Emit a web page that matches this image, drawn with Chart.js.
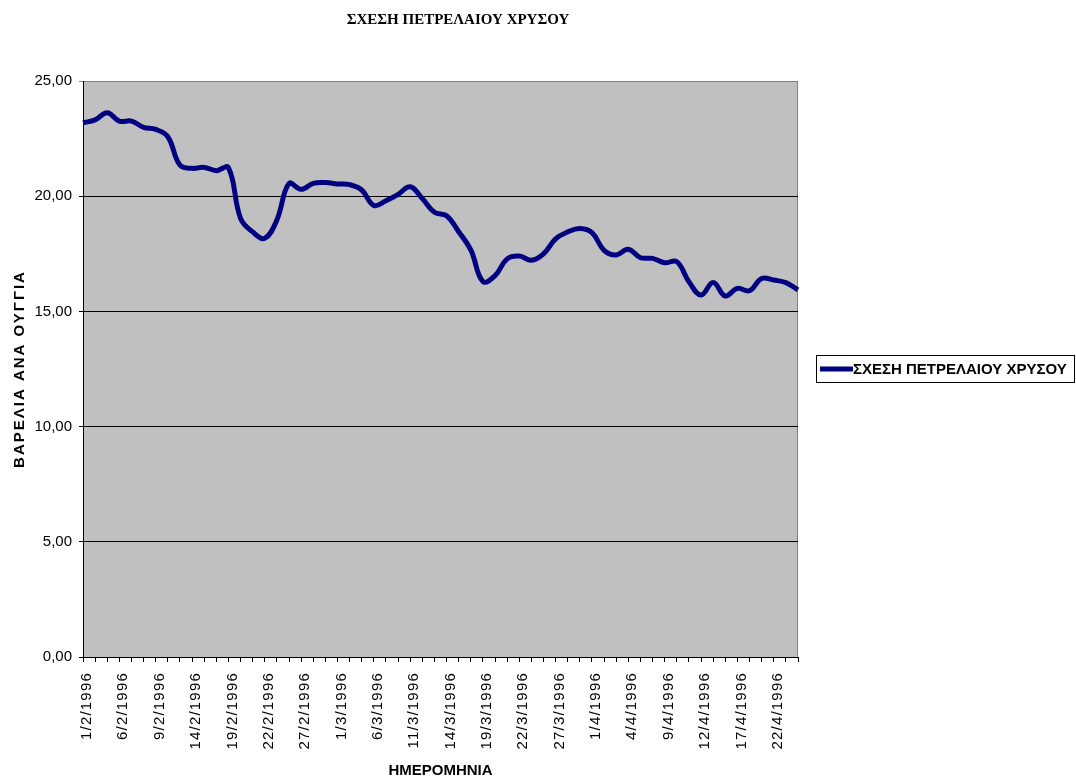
<!DOCTYPE html>
<html lang="el">
<head>
<meta charset="utf-8">
<title>ΣΧΕΣΗ ΠΕΤΡΕΛΑΙΟΥ ΧΡΥΣΟΥ</title>
<script src="https://cdn.jsdelivr.net/npm/chart.js@4.4.1/dist/chart.umd.min.js"></script>
<style>
  html, body { margin: 0; padding: 0; background: #fff; }
  #wrap { width: 1076px; height: 782px; position: relative; }
</style>
</head>
<body>
<div id="wrap"><canvas id="grafico"></canvas></div>
<script>
// Ημερομηνίες (εργάσιμες) 1/2/1996 - 24/4/1996
const dates = [
  '1/2/1996', '2/2/1996', '5/2/1996', '6/2/1996', '7/2/1996', '8/2/1996', '9/2/1996',
  '12/2/1996', '13/2/1996', '14/2/1996', '15/2/1996', '16/2/1996', '19/2/1996', '20/2/1996',
  '21/2/1996', '22/2/1996', '23/2/1996', '26/2/1996', '27/2/1996', '28/2/1996', '29/2/1996',
  '1/3/1996', '4/3/1996', '5/3/1996', '6/3/1996', '7/3/1996', '8/3/1996', '11/3/1996',
  '12/3/1996', '13/3/1996', '14/3/1996', '15/3/1996', '18/3/1996', '19/3/1996', '20/3/1996',
  '21/3/1996', '22/3/1996', '25/3/1996', '26/3/1996', '27/3/1996', '28/3/1996', '29/3/1996',
  '1/4/1996', '2/4/1996', '3/4/1996', '4/4/1996', '5/4/1996', '8/4/1996', '9/4/1996',
  '10/4/1996', '11/4/1996', '12/4/1996', '15/4/1996', '16/4/1996', '17/4/1996', '18/4/1996',
  '19/4/1996', '22/4/1996', '23/4/1996', '24/4/1996'
];

// Βαρέλια ανά ουγγιά
const ratio = [
  23.19, 23.31, 23.62, 23.26, 23.26, 22.99, 22.90,
  22.58, 21.35, 21.21, 21.25, 21.11, 21.24, 19.04,
  18.45, 18.17, 18.97, 20.55, 20.30, 20.56, 20.59,
  20.53, 20.50, 20.27, 19.60, 19.80, 20.08, 20.41,
  19.90, 19.30, 19.15, 18.46, 17.67, 16.30, 16.55,
  17.28, 17.40, 17.22, 17.50, 18.15, 18.45, 18.60,
  18.42, 17.65, 17.45, 17.70, 17.33, 17.30, 17.11,
  17.16, 16.29, 15.71, 16.25, 15.67, 16.00, 15.90,
  16.43, 16.36, 16.25, 15.93
];

// Άξονας Υ
const yTicks = [0, 5, 10, 15, 20, 25];
const labelStep = 3; // ετικέτα κάθε 3 ημερομηνίες

const seriesName = 'ΣΧΕΣΗ ΠΕΤΡΕΛΑΙΟΥ ΧΡΥΣΟΥ';
const sans = "'Liberation Sans', Arial, sans-serif";
const serif = "'Liberation Serif', 'Times New Roman', serif";

// Γκρι φόντο περιοχής σχεδίασης + τίτλος
const plotBg = {
  id: 'plotBg',
  beforeDraw(chart) {
    const { ctx, chartArea: a } = chart;
    ctx.save();
    ctx.fillStyle = '#c0c0c0';
    ctx.fillRect(a.left, a.top, a.right - a.left, a.bottom - a.top);
    ctx.strokeStyle = '#808080';
    ctx.lineWidth = 1;
    ctx.strokeRect(a.left + 0.5, a.top + 0.5, a.right - a.left - 1, a.bottom - a.top);

    // τίτλος
    ctx.fillStyle = '#000';
    ctx.font = 'bold 15px ' + serif;
    ctx.textAlign = 'center';
    ctx.textBaseline = 'middle';
    ctx.fillText(seriesName, 458, 20);
    ctx.restore();

    // αραιά γράμματα στις ετικέτες του άξονα Χ και στον τίτλο του Υ
    const sx = chart.scales.x;
    if (!sx._spaced) {
      const orig = sx.drawLabels.bind(sx);
      sx.drawLabels = (area) => {
        chart.ctx.save();
        chart.ctx.letterSpacing = '1.2px';
        orig(area);
        chart.ctx.restore();
      };
      sx._spaced = true;
    }
    const sy = chart.scales.y;
    if (!sy._spaced) {
      const origT = sy.drawTitle.bind(sy);
      sy.drawTitle = () => {
        chart.ctx.save();
        chart.ctx.letterSpacing = '2px';
        origT();
        chart.ctx.restore();
      };
      sy._spaced = true;
    }
  }
};

// Υπόμνημα με πλαίσιο, δεξιά του γραφήματος
const boxLegend = {
  id: 'boxLegend',
  afterDraw(chart) {
    const ctx = chart.ctx;
    const ds = chart.data.datasets[0];
    const a = chart.chartArea;
    const cy = Math.round((a.top + a.bottom) / 2);
    const x0 = a.right + 18;
    ctx.save();
    ctx.fillStyle = '#fff';
    ctx.fillRect(x0, cy - 14, 1076 - x0, 27);
    ctx.strokeStyle = '#000';
    ctx.lineWidth = 1;
    ctx.strokeRect(x0 + 0.5, cy - 13.5, 1076 - x0 - 2, 27);
    ctx.strokeStyle = ds.borderColor;
    ctx.lineWidth = 5;
    ctx.beginPath();
    ctx.moveTo(x0 + 4, cy);
    ctx.lineTo(x0 + 37, cy);
    ctx.stroke();
    ctx.fillStyle = '#000';
    ctx.font = 'bold 15px ' + sans;
    ctx.textBaseline = 'middle';
    ctx.fillText(ds.label, x0 + 37, cy + 1);
    ctx.restore();
  }
};

const ctx = document.getElementById('grafico').getContext('2d');
new Chart(ctx, {
  type: 'line',
  data: {
    labels: dates,
    datasets: [{
      label: seriesName,
      data: ratio,
      borderColor: '#000080',
      borderWidth: 5,
      pointRadius: 0,
      tension: 0.4,
      fill: false
    }]
  },
  options: {
    responsive: true,
    maintainAspectRatio: false,
    devicePixelRatio: 1,
    animation: false,
    layout: { padding: { left: 0, right: 278, top: 81, bottom: 0 } },
    plugins: {
      legend: { display: false },
      tooltip: { enabled: false },
      title: { display: false }
    },
    scales: {
      x: {
        type: 'category',
        offset: false,
        afterFit: (s) => { s.height = 125; },
        grid: {
          display: true,
          drawOnChartArea: false,
          drawTicks: true,
          tickLength: 5,
          color: '#000'
        },
        border: { display: true, color: '#000', width: 1 },
        ticks: {
          autoSkip: false,
          maxRotation: 90,
          minRotation: 90,
          padding: 10,
          labelOffset: 4,
          color: '#000',
          font: { family: sans, size: 15 },
          callback: (v, i) => (i % labelStep === 0 ? dates[i] : '')
        },
        title: {
          display: true,
          text: 'ΗΜΕΡΟΜΗΝΙΑ',
          color: '#000',
          font: { family: sans, size: 15, weight: 'bold' },
          padding: { top: 0, bottom: 2 }
        }
      },
      y: {
        min: yTicks[0],
        max: yTicks[yTicks.length - 1],
        afterFit: (s) => { s.width = 83; },
        afterBuildTicks: (s) => { s.ticks = yTicks.map((v) => ({ value: v })); },
        grid: {
          color: (c) => (c.tick && c.tick.value === 25 ? '#808080' : '#000'),
          lineWidth: 1,
          drawTicks: true,
          tickLength: 4
        },
        border: { display: true, color: '#000', width: 1 },
        ticks: {
          padding: 7,
          color: '#000',
          font: { family: sans, size: 15 },
          callback: (v) => Number(v).toFixed(2).replace('.', ',')
        },
        title: {
          display: true,
          text: 'ΒΑΡΕΛΙΑ ΑΝΑ ΟΥΓΓΙΑ',
          color: '#000',
          font: { family: sans, size: 15, weight: 'bold' },
          padding: { top: 11, bottom: 0 }
        }
      }
    }
  },
  plugins: [plotBg, boxLegend]
});
</script>
</body>
</html>
